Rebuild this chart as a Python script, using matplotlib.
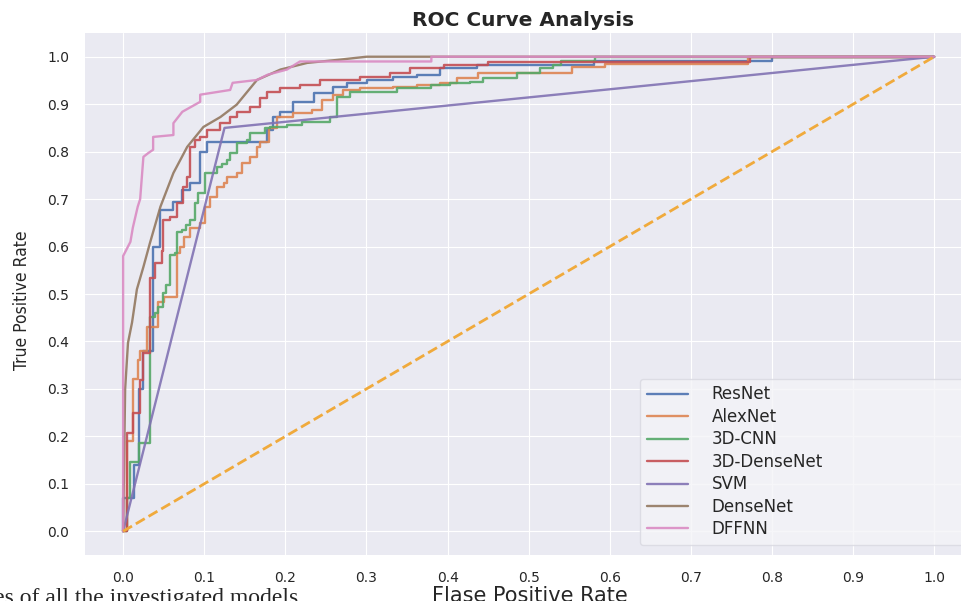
"""ROC curves for all the investigated models."""

import matplotlib

matplotlib.use("Agg")
import matplotlib.pyplot as plt
import seaborn as sns

# step-shaped curves: (fpr, tpr) corners at the top of each rise
RESNET_FPR = [0, 0, 0.013, 0.019, 0.025, 0.037, 0.046, 0.062, 0.073, 0.083, 0.095, 0.103, 0.177, 0.185,
              0.194, 0.210, 0.235, 0.259, 0.276, 0.301, 0.333, 0.362, 0.391, 0.436, 0.58, 0.80, 1.0]
RESNET_TPR = [0, 0.07, 0.14, 0.30, 0.38, 0.60, 0.677, 0.694, 0.72, 0.734, 0.80, 0.82, 0.846, 0.873,
              0.884, 0.905, 0.924, 0.937, 0.945, 0.951, 0.958, 0.962, 0.977, 0.983, 0.99, 1.0, 1.0]

ALEXNET_FPR = [0, 0.005, 0.012, 0.018, 0.021, 0.030, 0.043, 0.050, 0.066, 0.070, 0.075, 0.083, 0.095, 0.101,
               0.107, 0.116, 0.124, 0.128, 0.141, 0.147, 0.157, 0.165, 0.169, 0.180, 0.190, 0.210, 0.233,
               0.245, 0.259, 0.271, 0.292, 0.333, 0.362, 0.391, 0.412, 0.438, 0.554, 0.594, 0.77, 1.0]
ALEXNET_TPR = [0, 0.19, 0.32, 0.36, 0.38, 0.43, 0.483, 0.494, 0.587, 0.60, 0.62, 0.639, 0.65, 0.684,
               0.705, 0.726, 0.734, 0.747, 0.755, 0.776, 0.789, 0.81, 0.82, 0.85, 0.873, 0.882, 0.888,
               0.909, 0.92, 0.93, 0.935, 0.937, 0.941, 0.945, 0.956, 0.966, 0.979, 0.985, 1.0, 1.0]

CNN3D_FPR = [0, 0.005, 0.009, 0.019, 0.033, 0.033, 0.039, 0.043, 0.049, 0.053, 0.058, 0.064, 0.066, 0.066,
             0.073, 0.077, 0.083, 0.089, 0.092, 0.101, 0.116, 0.122, 0.128, 0.132, 0.141, 0.153, 0.157,
             0.175, 0.181, 0.202, 0.220, 0.255, 0.264, 0.280, 0.338, 0.379, 0.403, 0.428, 0.444, 0.486,
             0.514, 0.530, 0.540, 0.582, 1.0]
CNN3D_TPR = [0, 0.07, 0.146, 0.185, 0.36, 0.451, 0.46, 0.473, 0.502, 0.52, 0.582, 0.586, 0.614, 0.631,
             0.635, 0.645, 0.656, 0.692, 0.713, 0.755, 0.768, 0.775, 0.782, 0.797, 0.818, 0.825, 0.84,
             0.85, 0.852, 0.857, 0.862, 0.873, 0.916, 0.926, 0.935, 0.941, 0.945, 0.947, 0.956, 0.966,
             0.977, 0.983, 0.99, 1.0, 1.0]

DENSE3D_FPR = [0, 0.005, 0.012, 0.021, 0.025, 0.033, 0.039, 0.048, 0.049, 0.058, 0.067, 0.074, 0.079,
               0.083, 0.089, 0.095, 0.104, 0.120, 0.132, 0.141, 0.157, 0.169, 0.177, 0.194, 0.218, 0.243,
               0.292, 0.329, 0.354, 0.395, 0.450, 0.773, 1.0]
DENSE3D_TPR = [0, 0.207, 0.249, 0.318, 0.375, 0.534, 0.565, 0.59, 0.656, 0.662, 0.692, 0.726, 0.747,
               0.81, 0.825, 0.83, 0.846, 0.861, 0.873, 0.884, 0.895, 0.913, 0.926, 0.935, 0.941, 0.951,
               0.958, 0.966, 0.977, 0.983, 0.988, 1.0, 1.0]

# piecewise-linear curves
SVM_FPR = [0, 0.125, 1.0]
SVM_TPR = [0, 0.85, 1.0]

DENSENET_FPR = [0, 0.0025, 0.006, 0.011, 0.017, 0.025, 0.033, 0.046, 0.062, 0.079, 0.099, 0.120, 0.140,
                0.165, 0.194, 0.227, 0.268, 0.300, 1.0]
DENSENET_TPR = [0, 0.30, 0.397, 0.44, 0.51, 0.557, 0.607, 0.684, 0.755, 0.81, 0.852, 0.873, 0.899,
                0.951, 0.973, 0.987, 0.994, 1.0, 1.0]

DFFNN_FPR = [0, 0, 0.009, 0.012, 0.018, 0.021, 0.025, 0.031, 0.037, 0.037, 0.062, 0.062, 0.073, 0.095,
             0.095, 0.132, 0.135, 0.165, 0.178, 0.202, 0.218, 0.38, 0.38, 1.0]
DFFNN_TPR = [0, 0.58, 0.61, 0.64, 0.684, 0.70, 0.789, 0.797, 0.804, 0.831, 0.835, 0.86, 0.884, 0.905,
             0.92, 0.93, 0.945, 0.951, 0.962, 0.973, 0.99, 0.99, 1.0, 1.0]

MODELS = ["ResNet", "AlexNet", "3D-CNN", "3D-DenseNet", "SVM", "DenseNet", "DFFNN"]
STEPPED = {"ResNet", "AlexNet", "3D-CNN", "3D-DenseNet"}
CURVES = {
    "ResNet": (RESNET_FPR, RESNET_TPR),
    "AlexNet": (ALEXNET_FPR, ALEXNET_TPR),
    "3D-CNN": (CNN3D_FPR, CNN3D_TPR),
    "3D-DenseNet": (DENSE3D_FPR, DENSE3D_TPR),
    "SVM": (SVM_FPR, SVM_TPR),
    "DenseNet": (DENSENET_FPR, DENSENET_TPR),
    "DFFNN": (DFFNN_FPR, DFFNN_TPR),
}
TICKS = [0.0, 0.1, 0.2, 0.3, 0.4, 0.5, 0.6, 0.7, 0.8, 0.9, 1.0]

sns.set_style("darkgrid")
plt.rcParams["font.family"] = ["DejaVu Sans"]
palette = sns.color_palette("deep")

W, H = 961, 601
fig = plt.figure(figsize=(W / 100, H / 100), dpi=100)
ax = fig.add_axes([85 / W, 1 - 555 / H, (W - 85) / W, (555 - 33) / H])

for i, name in enumerate(MODELS):
    fpr, tpr = CURVES[name]
    ax.plot(fpr, tpr, color=palette[i], lw=1.7, alpha=0.9, label=name,
            drawstyle="steps-post" if name in STEPPED else "default")
ax.plot([0, 1], [0, 1], color="#f0aa3c", ls="--", lw=2)

ax.set_xlim(-0.047, 1.033)
ax.set_ylim(-0.05, 1.05)
ax.set_xticks(TICKS)
ax.set_yticks(TICKS)
ax.set_xticklabels([f"{t:.1f}" for t in TICKS])
ax.set_yticklabels([f"{t:.1f}" for t in TICKS])
ax.tick_params(labelsize=10, pad=8)
for s in ax.spines.values():
    s.set_visible(False)

ax.set_title("ROC Curve Analysis", fontsize=14.5, fontweight="bold", pad=5)
fig.text(22 / W, 1 - 300 / H, "True Positive Rate", rotation=90, ha="center", va="center",
         fontsize=12.5, fontstretch="condensed", family=["DejaVu Sans"])
fig.text(530 / W, 1 - 596 / H, "Flase Positive Rate", ha="center", va="center", fontsize=15)
fig.text(298 / W, 1 - 604 / H, "curves of all the investigated models", ha="right", va="baseline",
         fontsize=17, family=["Liberation Serif", "DejaVu Serif"])

leg = fig.legend(loc="lower left", bbox_to_anchor=(640 / W, 1 - 545 / H, 330 / W, 163 / H),
                 mode="expand", borderaxespad=0, fontsize=12, labelspacing=0.27,
                 handlelength=2.5, handletextpad=1.4, frameon=True, fancybox=True, borderpad=0.4)
leg.get_frame().set_facecolor("#f4f4f8")
leg.get_frame().set_edgecolor("#d8d8e0")

fig.savefig("out.png", dpi=100)
